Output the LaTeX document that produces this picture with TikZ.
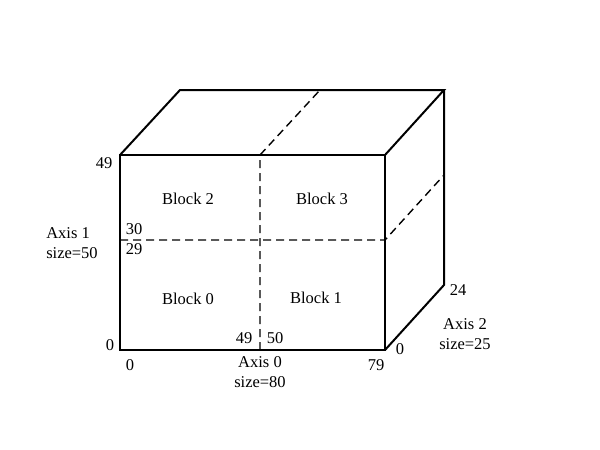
\documentclass[tikz,border=0pt]{standalone}
\usepackage{fontspec}
\setmainfont{Liberation Serif}
\begin{document}
\begin{tikzpicture}[x=1pt,y=-1pt,
  edge/.style={line width=2pt,line join=miter},
  split/.style={line width=1.4pt,dash pattern=on 8pt off 5pt},
  lbl/.style={font=\fontsize{16.5}{20}\selectfont,inner sep=0pt,align=center}]
\useasboundingbox (0,0) rectangle (600,450);
% corners
\coordinate (f00) at (120,350);
\coordinate (f10) at (385,350);
\coordinate (f11) at (385,155);
\coordinate (f01) at (120,155);
\coordinate (b01) at (180,90);
\coordinate (b11) at (444,90);
\coordinate (b10) at (444,285);
% split points
\coordinate (fmb) at (260,350);
\coordinate (fmt) at (260,155);
\coordinate (bmt) at (320,90);
\coordinate (fml) at (120,240);
\coordinate (fmr) at (385,240);
\coordinate (bmr) at (444,175);
% dashed splits
\draw[split] (fmb) -- (fmt) -- (bmt);
\draw[split] (fml) -- (fmr) -- (bmr);
% box edges
\draw[edge] (f00) rectangle (f11);
\draw[edge] (f01) -- (b01) -- (b11) -- (f11);
\draw[edge] (b11) -- (b10) -- (f10);
% labels
\node[lbl] (l49a) at (104,163) {49};
\node[lbl] (l30) at (134,229) {30};
\node[lbl] (l29) at (134,249) {29};
\node[lbl,align=left] (ax1) at (72,243) {Axis 1\\size=50};
\node[lbl] (l0a) at (110,345) {0};
\node[lbl] (l0b) at (130,365) {0};
\node[lbl] (ax0) at (260,372) {Axis 0\\size=80};
\node[lbl] (l79) at (376,365) {79};
\node[lbl] (l49b) at (244,338) {49};
\node[lbl] (l50) at (275,338) {50};
\node[lbl] (l0c) at (400,349) {0};
\node[lbl] (l24) at (458,290) {24};
\node[lbl] (ax2) at (465,334) {Axis 2\\size=25};
\node[lbl] (blk2) at (188,199) {Block 2};
\node[lbl] (blk3) at (322,199) {Block 3};
\node[lbl] (blk0) at (188,299) {Block 0};
\node[lbl] (blk1) at (316,298) {Block 1};
\end{tikzpicture}
\end{document}
